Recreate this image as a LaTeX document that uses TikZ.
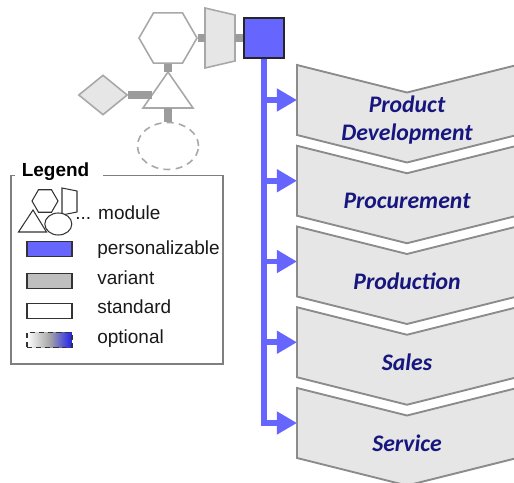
\documentclass[tikz,border=0pt]{standalone}
\usepackage{fontspec}
\setmainfont{Liberation Sans}
\newfontfamily\stagefont{Carlito}
\usetikzlibrary{arrows.meta,calc,positioning,shapes.geometric}
\definecolor{Hub}{HTML}{6666FF}
\definecolor{Navy}{HTML}{16167E}
\definecolor{Rim}{HTML}{8C8C8C}
\definecolor{Fog}{HTML}{E6E6E6}
\definecolor{Stem}{HTML}{9C9C9C}
\definecolor{Pale}{HTML}{A8A8A8}
\definecolor{Mid}{HTML}{BFBFBF}
\definecolor{Frame}{HTML}{7F7F7F}
\definecolor{Deep}{HTML}{2020F0}
\tikzset{
  stage/.style={draw=Rim, line width=1.1pt, fill=Fog, line join=miter},
  stagetext/.style={font=\stagefont\bfseries\itshape\fontsize{13.5}{15.5}\selectfont, text=Navy, align=center},
  module/.style={draw=Pale, line width=0.9pt, fill=white, inner sep=0pt},
  varmodule/.style={module, fill=Fog},
  optmodule/.style={module, dash pattern=on 4pt off 3pt},
  joint/.style={draw=Stem, line width=4pt},
  feed/.style={draw=Hub, line width=3.4pt},
  feedtip/.style={feed, -{Triangle[length=11.5pt, width=12.5pt]}},
  icon/.style={draw=black!80, line width=0.6pt, inner sep=0pt},
  swatch/.style={draw=black!80, line width=0.8pt, minimum width=0.9cm, minimum height=0.3cm, inner sep=0pt},
  keytext/.style={font=\fontsize{10.8}{13}\selectfont, text=black!90, anchor=base west, inner sep=0pt}
}
\begin{document}
\begin{tikzpicture}[x=0.02cm, y=-0.02cm]
\useasboundingbox (0,0) rectangle (514,483);
\clip (0,0) rectangle (514,483);
\foreach \stagename/\stagey/\stagetitle in {dev/65/{Product\\Development}, buy/145.75/Procurement, make/226.5/Production, sell/307.25/Sales, care/388/Service}{
  \draw[stage] (297,\stagey) -- (407,\stagey+27.5) -- (517,\stagey) -- (517,\stagey+70) -- (407,\stagey+97.5) -- (297,\stagey+70) -- cycle;
  \coordinate (\stagename) at (297,\stagey+35);
  \node[stagetext] (\stagename-text) at (407,\stagey+55) {\stagetitle};
}
\node[draw=black!85, line width=1pt, fill=Hub, minimum size=0.8cm, inner sep=0pt] (hub) at (264,38) {};
\node[module, regular polygon, regular polygon sides=6, minimum size=1.16cm] (hex) at (168,38) {};
\draw[varmodule] (205,8) -- (235,15) -- (235,61) -- (205,68) -- cycle;
\coordinate (trap-w) at (205,38);
\coordinate (trap-e) at (235,38);
\draw[module] (168,72) -- (193,108) -- (143,108) -- cycle;
\coordinate (tri-top) at (168,72);
\coordinate (tri-w) at (152,95);
\coordinate (tri-base) at (168,108);
\node[varmodule, diamond, minimum width=0.98cm, minimum height=0.8cm] (dia) at (103,95) {};
\node[optmodule, ellipse, minimum width=1.22cm, minimum height=0.94cm] (opt) at (168,146) {};
\draw[joint] (hex.east) -- (trap-w);
\draw[joint] (trap-e) -- (hub.west);
\draw[joint] (hex.south) -- (tri-top);
\draw[joint, line width=5pt] (dia.east) -- (tri-w);
\draw[joint] (tri-base) -- (opt.north);
\draw[feedtip] (hub.south) |- (care);
\foreach \stagename in {dev,buy,make,sell}
  \draw[feedtip] (hub.south |- \stagename) -- (\stagename);
\node[font=\bfseries\fontsize{10.8}{13}\selectfont, anchor=west, inner sep=0pt] (keytitle) at (21.5,172) {Legend};
\draw[draw=Frame, line width=0.8pt] (15,175.5) -- (11,175.5) -- (11,364) -- (223,364) -- (223,175.5) -- (103,175.5);
\node[icon, regular polygon, regular polygon sides=6, minimum size=0.52cm] (k-hex) at (45,201) {};
\draw[icon] (62,188) -- (77,191) -- (77,212) -- (62,215) -- cycle;
\draw[icon] (33,210) -- (46.5,232) -- (18.5,232) -- cycle;
\node[icon, ellipse, fill=white, minimum width=0.54cm, minimum height=0.44cm] (k-ell) at (58.3,224) {};
\node[keytext] (k-module) at (75,219.5) {... module};
\node[swatch, fill=Hub] (k-pers) at (49.5,249) {};
\node[keytext] (k-pers-text) at (97,254.5) {personalizable};
\node[swatch, fill=Mid] (k-var) at (49.5,281) {};
\node[keytext] (k-var-text) at (97,284) {variant};
\node[swatch, fill=white] (k-std) at (49.5,311) {};
\node[keytext] (k-std-text) at (97,313.5) {standard};
\node[swatch, dash pattern=on 3pt off 2pt, left color=white, right color=Deep, middle color=black!35] (k-opt) at (49.5,340) {};
\node[keytext] (k-opt-text) at (97,343) {optional};
\end{tikzpicture}
\end{document}
